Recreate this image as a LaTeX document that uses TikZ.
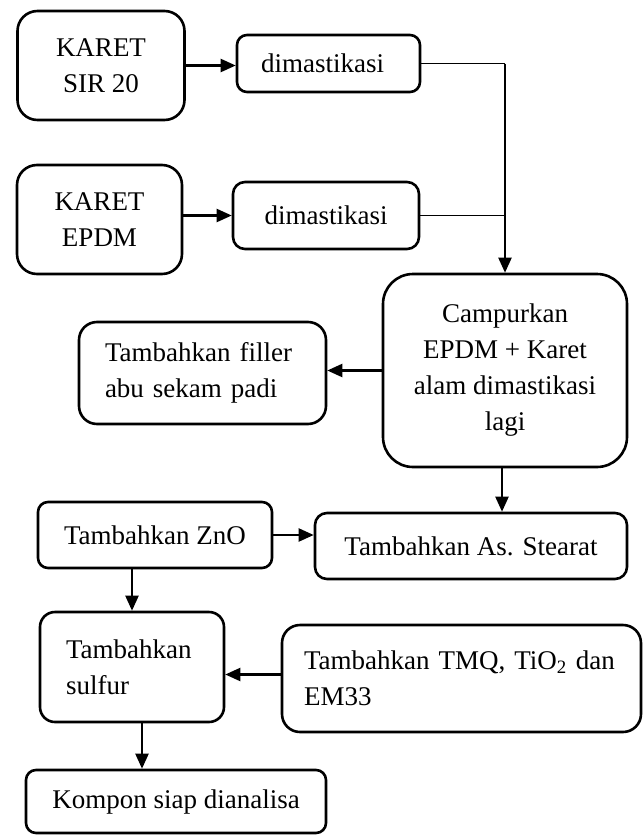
\documentclass[tikz,border=0pt]{standalone}
\usepackage{fontspec}
\setmainfont{Liberation Serif}
\usetikzlibrary{arrows.meta}
\begin{document}
\begin{tikzpicture}[x=1pt,y=-1pt,
  font=\fontsize{27pt}{36pt}\selectfont,
  box/.style={draw,line width=2.6pt,rounded corners=#1,inner sep=0pt,align=center},
  box/.default=10pt,
  lbox/.style 2 args={draw,line width=2.6pt,rounded corners=#1,inner xsep=#2,inner ysep=0pt,align=left},
  arr/.style={line width=2.2pt,-{Triangle[length=15pt,width=13pt]}},
  thin/.style={line width=1.3pt}]
\useasboundingbox (0,0) rectangle (644,835);
\node[box=20pt,minimum width=167pt,minimum height=109pt] (sir) at (101,65.5) {KARET\\SIR 20};
\node[lbox={10pt}{24pt},text width=135pt,minimum height=57pt] (dim1) at (328.5,63.5) {dimastikasi};
\node[box=20pt,minimum width=165pt,minimum height=109pt] (epdm) at (99.5,219.5) {KARET\\EPDM};
\node[box=12pt,minimum width=186pt,minimum height=67pt] (dim2) at (326,215.5) {dimastikasi};
\node[box=30pt,minimum width=244pt,minimum height=193pt] (camp) at (505,370.5) {Campurkan\\EPDM + Karet\\alam dimastikasi\\lagi};
\node[lbox={18pt}{26pt},text width=195pt,minimum height=102pt] (filler) at (202.5,373) {Tambahkan filler\\abu sekam padi};
\node[box=10pt,minimum width=234pt,minimum height=66pt] (zno) at (155,535) {Tambahkan ZnO};
\node[box=12pt,minimum width=312pt,minimum height=66pt] (stearat) at (471,546) {Tambahkan As. Stearat};
\node[lbox={15pt}{26pt},text width=132pt,minimum height=110pt] (sulfur) at (132,667) {Tambahkan\\sulfur};
\node[lbox={18pt}{22pt},text width=315pt,minimum height=107pt] (tmq) at (461.5,678.5) {Tambahkan TMQ, TiO\textsubscript{2} dan\\EM33};
\node[box=10pt,minimum width=300pt,minimum height=63pt] (kompon) at (176,801.5) {Kompon siap dianalisa};
\draw[arr] (sir.east) -- (sir.east -| dim1.west);
\draw[arr] (dim2.west -| epdm.east) -- (dim2.west);
\coordinate (j) at (camp.north |- dim1.east);
\draw[thin] (dim1.east) -- (j);
\draw[thin] (dim2.east) -- (dim2.east -| camp.north);
\draw[arr] (j) -- (camp.north);
\draw[arr] (camp.west) -- (camp.west -| filler.east);
\draw[arr] ([xshift=-3pt]camp.south) -- ([xshift=-3pt]camp.south |- stearat.north);
\draw[arr] (zno.east) -- (zno.east -| stearat.west);
\draw[arr] (sulfur.north |- zno.south) -- (sulfur.north);
\draw[arr] ([yshift=4pt]tmq.west) -- ([yshift=4pt]tmq.west -| sulfur.east);
\draw[arr] ([xshift=10pt]sulfur.south) -- ([xshift=10pt]sulfur.south |- kompon.north);
\end{tikzpicture}
\end{document}
